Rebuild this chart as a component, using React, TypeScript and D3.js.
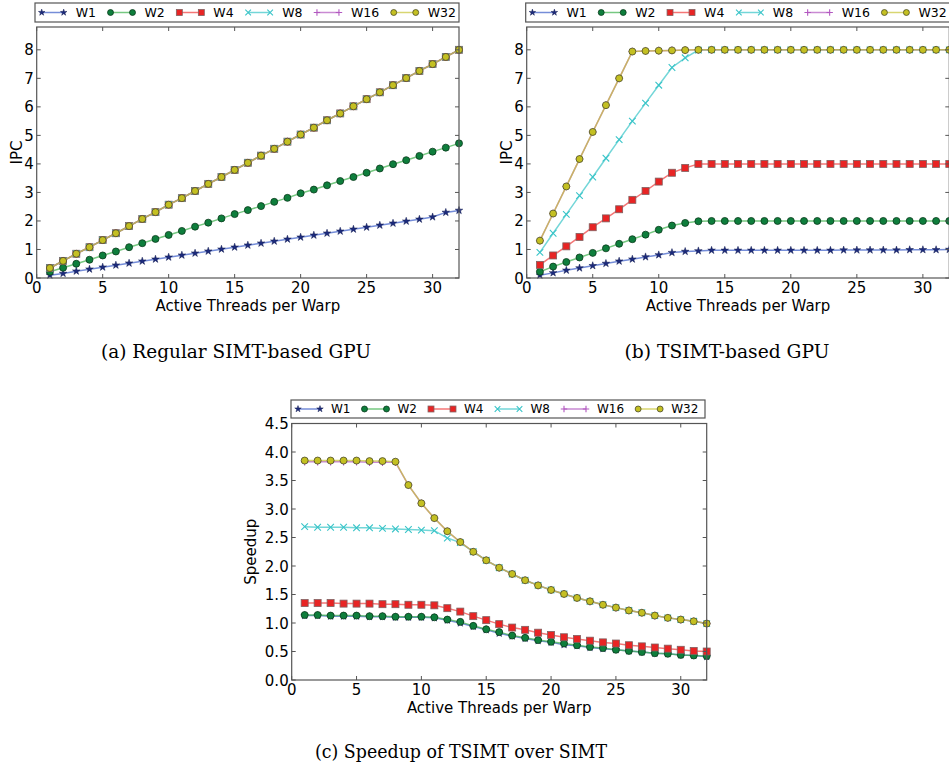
import React, { useEffect, useRef } from 'react';
import * as d3 from 'd3';

// x categories: active threads per warp
const threads = [1, 2, 3, 4, 5, 6, 7, 8, 9, 10, 11, 12, 13, 14, 15, 16, 17, 18, 19, 20, 21, 22, 23, 24, 25, 26, 27, 28, 29, 30, 31, 32];
const seriesNames = ['W1', 'W2', 'W4', 'W8', 'W16', 'W32'];

const xTicks = [0, 5, 10, 15, 20, 25, 30];
const ipcTicks = [0, 1, 2, 3, 4, 5, 6, 7, 8];
const speedupTicks = [0, 0.5, 1.0, 1.5, 2.0, 2.5, 3.0, 3.5, 4.0, 4.5];

// (a) regular SIMT
const simtW1 = [0.10, 0.16, 0.24, 0.31, 0.38, 0.45, 0.52, 0.59, 0.66, 0.73, 0.80, 0.87, 0.94, 1.01, 1.08, 1.15, 1.22, 1.29, 1.36, 1.43, 1.50, 1.57, 1.64, 1.71, 1.78, 1.85, 1.92, 1.99, 2.06, 2.14, 2.30, 2.37];
const simtW2 = [0.22, 0.36, 0.50, 0.64, 0.79, 0.93, 1.08, 1.22, 1.37, 1.51, 1.65, 1.80, 1.94, 2.09, 2.24, 2.38, 2.52, 2.67, 2.81, 2.97, 3.10, 3.25, 3.40, 3.54, 3.69, 3.84, 3.99, 4.13, 4.28, 4.43, 4.57, 4.72];
const simtW4 = [0.35, 0.60, 0.85, 1.08, 1.33, 1.57, 1.82, 2.07, 2.31, 2.57, 2.80, 3.05, 3.30, 3.54, 3.79, 4.04, 4.29, 4.53, 4.78, 5.03, 5.27, 5.53, 5.77, 6.02, 6.27, 6.51, 6.76, 7.01, 7.26, 7.50, 7.75, 8.00];
// W8, W16 and W32 sit exactly on top of W4 in the picture
const simtW8 = simtW4;
const simtW16 = simtW4;
const simtW32 = simtW4;

// (b) TSIMT
const tsimtW1 = [0.10, 0.18, 0.27, 0.35, 0.43, 0.51, 0.59, 0.66, 0.74, 0.81, 0.89, 0.93, 0.95, 0.97, 0.97, 0.97, 0.97, 0.97, 0.97, 0.97, 0.97, 0.97, 0.97, 0.98, 0.98, 0.98, 0.98, 0.98, 0.99, 0.99, 0.99, 1.00];
const tsimtW2 = [0.22, 0.40, 0.56, 0.72, 0.88, 1.04, 1.20, 1.36, 1.52, 1.69, 1.84, 1.93, 1.99, 2.00, 2.00, 2.00, 2.00, 2.00, 2.00, 2.00, 2.00, 2.00, 2.00, 2.00, 2.00, 2.00, 2.00, 2.00, 2.00, 2.00, 2.00, 2.00];
const tsimtW4 = [0.46, 0.79, 1.11, 1.44, 1.78, 2.09, 2.41, 2.74, 3.05, 3.38, 3.69, 3.86, 4.00, 4.00, 4.00, 4.00, 4.00, 4.00, 4.00, 4.00, 4.00, 4.00, 4.00, 4.00, 4.00, 4.00, 4.00, 4.00, 4.00, 4.00, 4.00, 4.00];
const tsimtW8 = [0.90, 1.57, 2.23, 2.89, 3.54, 4.20, 4.85, 5.50, 6.13, 6.76, 7.38, 7.72, 7.99, 8.00, 8.00, 8.00, 8.00, 8.00, 8.00, 8.00, 8.00, 8.00, 8.00, 8.00, 8.00, 8.00, 8.00, 8.00, 8.00, 8.00, 8.00, 8.00];
const tsimtW16 = [1.31, 2.26, 3.21, 4.17, 5.12, 6.06, 7.00, 7.94, 7.96, 7.97, 7.98, 7.99, 8.00, 8.00, 8.00, 8.00, 8.00, 8.00, 8.00, 8.00, 8.00, 8.00, 8.00, 8.00, 8.00, 8.00, 8.00, 8.00, 8.00, 8.00, 8.00, 8.00];
const tsimtW32 = [1.31, 2.26, 3.21, 4.17, 5.12, 6.06, 7.00, 7.94, 7.96, 7.97, 7.98, 7.99, 8.00, 8.00, 8.00, 8.00, 8.00, 8.00, 8.00, 8.00, 8.00, 8.00, 8.00, 8.00, 8.00, 8.00, 8.00, 8.00, 8.00, 8.00, 8.00, 8.00];

// (c) speedup
const speedW1 = [1.13, 1.13, 1.12, 1.12, 1.12, 1.11, 1.11, 1.10, 1.10, 1.10, 1.09, 1.05, 1.00, 0.94, 0.88, 0.82, 0.77, 0.73, 0.69, 0.66, 0.62, 0.60, 0.57, 0.55, 0.53, 0.51, 0.49, 0.47, 0.46, 0.44, 0.43, 0.41];
const speedW2 = [1.14, 1.14, 1.13, 1.13, 1.13, 1.12, 1.12, 1.11, 1.11, 1.11, 1.10, 1.06, 1.02, 0.95, 0.89, 0.84, 0.78, 0.74, 0.70, 0.67, 0.64, 0.61, 0.58, 0.56, 0.53, 0.51, 0.49, 0.47, 0.46, 0.44, 0.43, 0.42];
const speedW4 = [1.35, 1.35, 1.35, 1.34, 1.34, 1.34, 1.33, 1.33, 1.32, 1.32, 1.31, 1.26, 1.20, 1.12, 1.05, 0.98, 0.92, 0.88, 0.83, 0.79, 0.75, 0.72, 0.69, 0.66, 0.64, 0.61, 0.59, 0.57, 0.55, 0.53, 0.51, 0.50];
const speedW8 = [2.69, 2.68, 2.68, 2.68, 2.67, 2.67, 2.66, 2.65, 2.64, 2.63, 2.62, 2.49, 2.41, 2.25, 2.10, 1.97, 1.86, 1.75, 1.66, 1.58, 1.51, 1.44, 1.38, 1.32, 1.27, 1.22, 1.18, 1.13, 1.09, 1.06, 1.03, 0.99];
const speedW16 = [3.83, 3.83, 3.83, 3.83, 3.83, 3.82, 3.82, 3.82, 3.42, 3.10, 2.84, 2.61, 2.42, 2.25, 2.10, 1.97, 1.86, 1.75, 1.66, 1.58, 1.51, 1.44, 1.38, 1.32, 1.27, 1.22, 1.18, 1.13, 1.09, 1.06, 1.03, 0.99];
const speedW32 = [3.85, 3.85, 3.85, 3.85, 3.85, 3.84, 3.84, 3.83, 3.42, 3.10, 2.84, 2.61, 2.42, 2.25, 2.10, 1.97, 1.86, 1.75, 1.66, 1.58, 1.51, 1.44, 1.38, 1.32, 1.27, 1.22, 1.18, 1.13, 1.09, 1.06, 1.03, 0.99];

const styles = [
  { line: '#3a5cc8', fill: '#1c2a7c', edge: '#101a50', marker: 'star' },
  { line: '#3cb04c', fill: '#0e7e3c', edge: '#0a3a1c', marker: 'circle' },
  { line: '#f03c3c', fill: '#e82424', edge: '#806060', marker: 'square' },
  { line: '#38c4c8', fill: '#38c4c8', edge: '#38c4c8', marker: 'x' },
  { line: '#b258c0', fill: '#b258c0', edge: '#b258c0', marker: 'plus' },
  { line: '#c8c434', fill: '#c4c022', edge: '#4a4a2a', marker: 'circle' },
];

const AXIS = '#555';

const drawMarker = (g, kind, x, y, st, s = 1) => {
  if (kind === 'circle') {
    g.append('circle').attr('cx', x).attr('cy', y).attr('r', 3.5 * s)
      .attr('fill', st.fill).attr('stroke', st.edge).attr('stroke-width', 0.8);
  } else if (kind === 'square') {
    g.append('rect').attr('x', x - 3.5 * s).attr('y', y - 3.5 * s).attr('width', 7 * s).attr('height', 7 * s)
      .attr('fill', st.fill).attr('stroke', st.edge).attr('stroke-width', 0.8);
  } else if (kind === 'star') {
    g.append('path').attr('d', d3.symbol().type(d3.symbolStar).size(18 * s * s)())
      .attr('transform', `translate(${x},${y})`)
      .attr('fill', st.fill).attr('stroke', st.edge).attr('stroke-width', 0.5);
  } else if (kind === 'x') {
    const r = 3.3 * s;
    g.append('path').attr('d', `M${-r},${-r}L${r},${r}M${-r},${r}L${r},${-r}`)
      .attr('transform', `translate(${x},${y})`)
      .attr('stroke', st.edge).attr('stroke-width', 1.1).attr('fill', 'none');
  } else {
    const r = 3.8 * s;
    g.append('path').attr('d', `M${-r},0H${r}M0,${-r}V${r}`)
      .attr('transform', `translate(${x},${y})`)
      .attr('stroke', st.edge).attr('stroke-width', 1.1).attr('fill', 'none');
  }
};

const drawPanel = (svg, p) => {
  const g = svg.append('g');
  const x = d3.scaleLinear().domain([0, 32]).range([p.left, p.right]);
  const y = d3.scaleLinear().domain([0, p.yMax]).range([p.bottom, p.top]);

  // series
  p.series.forEach((vals, i) => {
    const st = styles[i];
    const pts = threads.map((t, k) => [t, vals[k]]);
    const line = d3.line().x(d => x(d[0])).y(d => y(d[1]));
    g.append('path').datum(pts)
      .attr('fill', 'none').attr('stroke', st.line).attr('stroke-width', 1.5)
      .attr('stroke-opacity', 0.7).attr('d', line);
    const mg = g.append('g');
    pts.forEach(d => drawMarker(mg, st.marker, x(d[0]), y(d[1]), st));
  });

  // frame
  g.append('rect').attr('x', p.left).attr('y', p.top)
    .attr('width', p.right - p.left).attr('height', p.bottom - p.top)
    .attr('fill', 'none').attr('stroke', AXIS).attr('stroke-width', 1.2);

  // ticks (inside, all four sides)
  xTicks.forEach(t => {
    const xx = x(t);
    g.append('line').attr('x1', xx).attr('x2', xx).attr('y1', p.bottom).attr('y2', p.bottom - 4).attr('stroke', AXIS);
    g.append('line').attr('x1', xx).attr('x2', xx).attr('y1', p.top).attr('y2', p.top + 4).attr('stroke', AXIS);
    g.append('text').attr('x', xx).attr('y', p.bottom + 14.5).attr('text-anchor', 'middle')
      .attr('font-size', 15).text(t);
  });
  p.yTicks.forEach(t => {
    const yy = y(t);
    g.append('line').attr('x1', p.left).attr('x2', p.left + 4).attr('y1', yy).attr('y2', yy).attr('stroke', AXIS);
    g.append('line').attr('x1', p.right).attr('x2', p.right - 4).attr('y1', yy).attr('y2', yy).attr('stroke', AXIS);
    g.append('text').attr('x', p.left - 3).attr('y', yy + 5.5).attr('text-anchor', 'end')
      .attr('font-size', 15).text(p.yFormat(t));
  });

  // axis labels
  g.append('text').attr('x', (p.left + p.right) / 2).attr('y', p.bottom + 32.5)
    .attr('text-anchor', 'middle').attr('font-size', 15).text('Active Threads per Warp');
  g.append('text')
    .attr('transform', `translate(${p.left - p.yLabelOffset},${(p.top + p.bottom) / 2}) rotate(-90)`)
    .attr('text-anchor', 'middle').attr('font-size', 15).text(p.yLabel);

  // legend
  const lb = p.legend;
  g.append('rect').attr('x', lb.x).attr('y', lb.y).attr('width', lb.w).attr('height', lb.h)
    .attr('fill', 'white').attr('stroke', AXIS).attr('stroke-width', 1.2);
  let cx = lb.x + lb.pad;
  const cy = lb.y + lb.h / 2;
  seriesNames.forEach((name, i) => {
    const st = styles[i];
    g.append('line').attr('x1', cx).attr('x2', cx + 22).attr('y1', cy).attr('y2', cy)
      .attr('stroke', st.line).attr('stroke-width', 1.5).attr('stroke-opacity', 0.7);
    drawMarker(g, st.marker, cx, cy, st, 0.85);
    drawMarker(g, st.marker, cx + 22, cy, st, 0.85);
    const txt = g.append('text').attr('x', cx + 22 + lb.gap).attr('y', cy + lb.font * 0.36)
      .attr('font-size', lb.font).text(name);
    const w = txt.node().getComputedTextLength();
    cx = cx + 22 + lb.gap + w + lb.after;
  });
};

const App = () => {
  const ref = useRef(null);

  useEffect(() => {
    const svg = d3.select(ref.current);
    svg.selectAll('*').remove();
    svg.attr('font-family', 'DejaVu Sans, sans-serif');

    drawPanel(svg, {
      left: 36.7, right: 459, top: 27, bottom: 278, yMax: 8.8,
      yTicks: ipcTicks, yFormat: d3.format('d'), yLabel: 'IPC', yLabelOffset: 15,
      series: [simtW1, simtW2, simtW4, simtW8, simtW16, simtW32],
      legend: { x: 35, y: 3, w: 424, h: 19, pad: 6.7, gap: 12, after: 14.5, font: 12.5 },
    });
    drawPanel(svg, {
      left: 526.7, right: 949.3, top: 27, bottom: 278, yMax: 8.8,
      yTicks: ipcTicks, yFormat: d3.format('d'), yLabel: 'IPC', yLabelOffset: 15,
      series: [tsimtW1, tsimtW2, tsimtW4, tsimtW8, tsimtW16, tsimtW32],
      legend: { x: 525.7, y: 3, w: 424, h: 19, pad: 6.7, gap: 12, after: 14.5, font: 12.5 },
    });
    drawPanel(svg, {
      left: 291.7, right: 706.7, top: 423.5, bottom: 680, yMax: 4.5,
      yTicks: speedupTicks, yFormat: d3.format('.1f'), yLabel: 'Speedup', yLabelOffset: 36,
      series: [speedW1, speedW2, speedW4, speedW8, speedW16, speedW32],
      legend: { x: 291, y: 400, w: 414, h: 18, pad: 7, gap: 11, after: 14, font: 12 },
    });

    const captions = [
      { text: '(a) Regular SIMT-based GPU', x: 236, y: 358, w: 270 },
      { text: '(b) TSIMT-based GPU', x: 727, y: 358, w: 205 },
      { text: '(c) Speedup of TSIMT over SIMT', x: 461, y: 758, w: 292 },
    ];
    captions.forEach(c => {
      svg.append('text').attr('x', c.x - c.w / 2).attr('y', c.y)
        .attr('font-family', 'DejaVu Serif, serif').attr('font-size', 18)
        .attr('textLength', c.w).attr('lengthAdjust', 'spacingAndGlyphs')
        .text(c.text);
    });
  }, []);

  return (
    <div style={{ position: 'absolute', left: 0, top: 0 }}>
      <svg ref={ref} width={949} height={769} style={{ display: 'block', background: 'white' }}></svg>
    </div>
  );
};

export default App;
